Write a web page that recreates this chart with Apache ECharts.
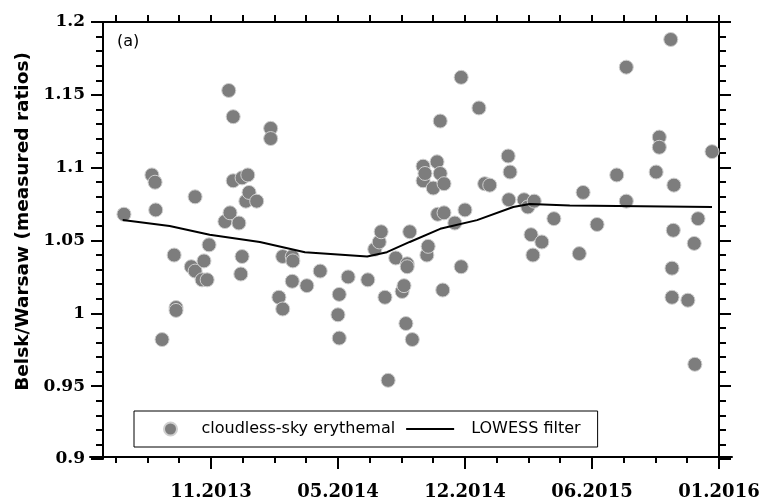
<!DOCTYPE html>
<html><head><meta charset="utf-8">
<script src="https://cdn.jsdelivr.net/npm/echarts@6/dist/echarts.min.js"></script>
<style>html,body{margin:0;padding:0;background:#fff}#c{width:765px;height:501px}</style>
</head><body><div id="c"></div>
<script>
// Observation day offsets (days since 2013-11-04) and Belsk/Warsaw ratios
const obsDay = [
 -137,-93,-88,-87,-77,-58,-55,-55,-31,-25,-25,-14,-11,-6,-3,22,28,30,35,35,44,47,49,49,55,58,60,72,
 94,94,107,113,113,128,129,128,151,172,200,202,202,216,247,258,265,268,274,279,291,301,304,307,309,309,313,317,
 334,334,337,340,342,350,356,357,361,361,365,367,367,384,394,394,400,422,431,439,468,469,471,493,499,504,507,509,521,540,
 580,586,608,639,654,654,701,706,706,724,726,726,728,729,751,761,762,767,789
];
const obsRatio = [
 1.068,1.095,1.090,1.071,0.982,1.040,1.004,1.002,1.032,1.029,1.080,1.023,1.036,1.023,1.047,1.063,1.153,1.069,1.135,1.091,1.062,1.027,1.093,1.039,1.077,1.095,1.083,1.077,
 1.127,1.120,1.011,1.003,1.039,1.039,1.036,1.022,1.019,1.029,0.999,1.013,0.983,1.025,1.023,1.044,1.049,1.056,1.011,0.954,1.038,1.015,1.019,0.993,1.034,1.032,1.056,0.982,
 1.101,1.091,1.096,1.040,1.046,1.086,1.104,1.068,1.132,1.096,1.016,1.089,1.069,1.062,1.162,1.032,1.071,1.141,1.089,1.088,1.108,1.078,1.097,1.078,1.073,1.054,1.040,1.077,1.049,1.065,
 1.041,1.083,1.061,1.095,1.169,1.077,1.097,1.121,1.114,1.188,1.031,1.011,1.057,1.088,1.009,1.048,0.965,1.065,1.111
];
// LOWESS filter curve
const lowessDay   = [-139,-65,-2,77,148,246,277,313,361,419,476,502,565,789];
const lowessRatio = [1.064,1.060,1.054,1.049,1.042,1.039,1.042,1.049,1.058,1.064,1.073,1.075,1.074,1.073];
// axis ticks (days since base date)
const majorTickDays = [0,200,400,600,800];
const minorTickDays = [-150,-100,-50,50,100,150,250,300,350,450,500,550,650,700,750];
const baseDateUTC = Date.UTC(2013,10,4);
const xMin = -170, xMax = 800, xExt = 20.5;
const yMin = 0.9, yMax = 1.2, yStep = 0.05;

function fmtDate(d){
  const t = new Date(baseDateUTC + d*86400000);
  const m = t.getUTCMonth()+1;
  return (m<10?'0':'')+m+'.'+t.getUTCFullYear();
}
const scatterData = obsDay.map((d,i)=>[d,obsRatio[i]]);
const lowessData = lowessDay.map((d,i)=>[d,lowessRatio[i]]);

const black = '#000';
const lineW = {color:black,width:2};
const chart = echarts.init(document.getElementById('c'), null, {renderer:'canvas'});
chart.setOption({
  animation:false,
  backgroundColor:'#fff',
  grid:[
    {left:103,right:46,top:22,bottom:42},
    {left:90,right:33,top:22,bottom:42}
  ],
  graphic:[{type:'text',left:117,top:34,style:{text:'(a)',font:'16px "DejaVu Sans"',fill:'#000'}}],
  xAxis:[
    {gridIndex:0,type:'value',position:'top',min:xMin,max:xMax,
     axisLine:{onZero:false,lineStyle:lineW},
     axisTick:{length:7,customValues:minorTickDays.concat(majorTickDays),lineStyle:lineW},
     axisLabel:{show:false},splitLine:{show:false}},
    {gridIndex:1,type:'value',position:'bottom',min:xMin-xExt,max:xMax+xExt,
     axisLine:{onZero:false,lineStyle:lineW},
     axisTick:{length:12,customValues:majorTickDays,lineStyle:lineW},
     axisLabel:{customValues:majorTickDays,formatter:fmtDate,margin:26,color:black,
       fontFamily:'DejaVu Serif',fontWeight:'bold',fontSize:18},
     splitLine:{show:false}},
    {gridIndex:1,type:'value',position:'bottom',min:xMin-xExt,max:xMax+xExt,
     axisLine:{show:false,onZero:false},
     axisTick:{length:6,customValues:minorTickDays,lineStyle:lineW},
     axisLabel:{show:false},splitLine:{show:false}}
  ],
  yAxis:[
    {gridIndex:0,type:'value',position:'left',min:yMin,max:yMax,interval:yStep,
     axisLine:{show:true,onZero:false,lineStyle:lineW},
     axisTick:{length:12,lineStyle:lineW},
     minorTick:{show:true,splitNumber:5,length:7,lineStyle:lineW},
     axisLabel:{margin:18,color:black,fontFamily:'DejaVu Serif',fontWeight:'bold',fontSize:17},
     splitLine:{show:false},minorSplitLine:{show:false},
     name:'Belsk/Warsaw (measured ratios)',nameLocation:'middle',nameGap:70,
     nameTextStyle:{color:black,fontFamily:'DejaVu Sans',fontWeight:'bold',fontSize:18.5,padding:[0,0,0,38]}},
    {gridIndex:0,type:'value',position:'right',min:yMin,max:yMax,interval:yStep,
     axisLine:{show:true,onZero:false,lineStyle:lineW},
     axisTick:{length:12,lineStyle:lineW},
     minorTick:{show:true,splitNumber:5,length:7,lineStyle:lineW},
     axisLabel:{show:false},splitLine:{show:false}},
    {gridIndex:1,type:'value',show:false,min:yMin,max:yMax}
  ],
  legend:{left:134,top:411,orient:'horizontal',padding:[10,17,10,29],
    borderColor:black,borderWidth:1,borderRadius:0,backgroundColor:'#fff',
    itemWidth:48,itemHeight:13,itemGap:11,
    textStyle:{fontFamily:'DejaVu Sans',fontSize:16,color:black,padding:[0,0,0,2]},
    data:[{name:'cloudless-sky erythemal',icon:'circle'},
          {name:'LOWESS filter',icon:'path://M0,0L48,0L48,2L0,2Z',textStyle:{padding:[0,0,0,12]}}]},
  series:[
    {name:'cloudless-sky erythemal',type:'scatter',xAxisIndex:0,yAxisIndex:0,data:scatterData,
     symbolSize:14,itemStyle:{color:'#7d7d7d',borderColor:'#cfcfcf',borderWidth:1,opacity:1},z:2},
    {name:'LOWESS filter',type:'line',xAxisIndex:0,yAxisIndex:0,data:lowessData,
     showSymbol:false,symbol:'none',lineStyle:{color:black,width:2},itemStyle:{color:black},z:3}
  ]
});
</script></body></html>
